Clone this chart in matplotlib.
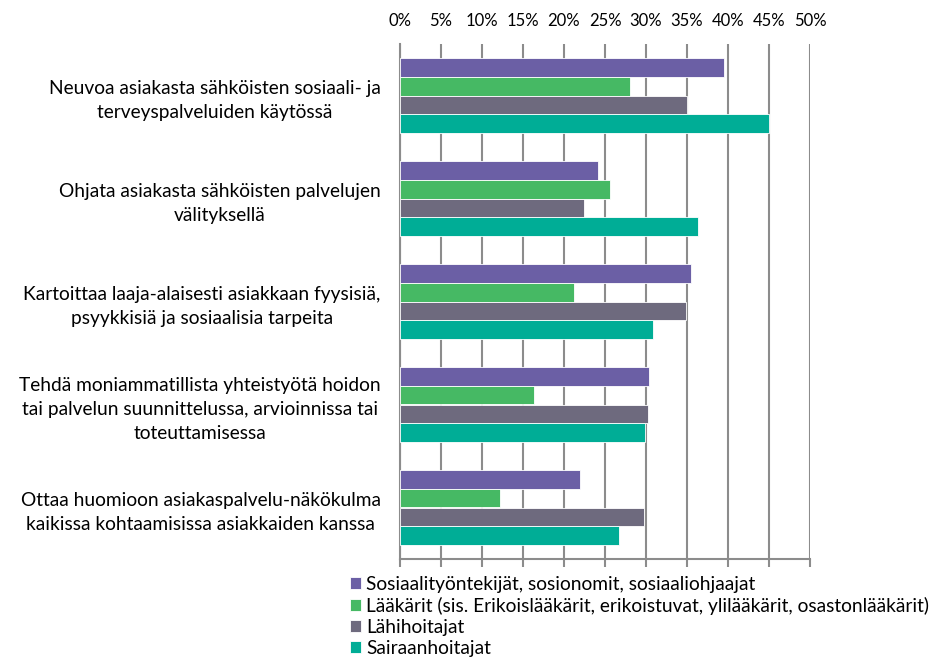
import numpy as np
import matplotlib
matplotlib.use("Agg")
import matplotlib.pyplot as plt
from matplotlib.ticker import MultipleLocator, PercentFormatter

plt.rcParams["font.family"] = ["Lato", "DejaVu Sans"]

# Data (percent)
categories = [
    "Neuvoa asiakasta sähköisten sosiaali- ja\nterveyspalveluiden käytössä",
    "Ohjata asiakasta sähköisten palvelujen\nvälityksellä",
    "Kartoittaa laaja-alaisesti asiakkaan fyysisiä,\npsyykkisiä ja sosiaalisia tarpeita",
    "Tehdä moniammatillista yhteistyötä hoidon\ntai palvelun suunnittelussa, arvioinnissa tai\ntoteuttamisessa",
    "Ottaa huomioon asiakaspalvelu-näkökulma\nkaikissa kohtaamisissa asiakkaiden kanssa",
]
series_names = [
    "Sosiaalityöntekijät, sosionomit, sosiaaliohjaajat",
    "Lääkärit (sis. Erikoislääkärit, erikoistuvat, ylilääkärit, osastonlääkärit)",
    "Lähihoitajat",
    "Sairaanhoitajat",
]
sosiaalityo = [39.5, 24.2, 35.5, 30.4, 22.0]
laakarit = [28.0, 25.6, 21.2, 16.3, 12.2]
lahihoitajat = [35.0, 22.4, 34.9, 30.3, 29.7]
sairaanhoitajat = [45.0, 36.4, 30.9, 29.9, 26.7]
colors = ["#6B5FA5", "#46B964", "#6E6A7E", "#00AD96"]

values = [sosiaalityo, laakarit, lahihoitajat, sairaanhoitajat]

fig = plt.figure(figsize=(9.51, 6.57), dpi=100)
W, H = 951, 657
ax = fig.add_axes([400 / W, (H - 559) / H, 410 / W, (559 - 44) / H])

y = np.arange(len(categories))
h = 0.182
for i, (vals, col, name) in enumerate(zip(values, colors, series_names)):
    ax.barh(y + (i - 1.5) * h, vals, height=h, color=col, label=name,
            edgecolor="white", linewidth=0.6, zorder=3)

ax.set_xlim(0, 50)
ax.set_ylim(4.5, -0.5)
ax.xaxis.set_major_locator(MultipleLocator(5))
ax.xaxis.set_major_formatter(PercentFormatter(decimals=0))
ax.grid(axis="x", color="#8C8C8C", linewidth=1.5, zorder=0)
ax.set_yticks(y)
ax.set_yticklabels(categories, fontsize=13.8, multialignment="center", linespacing=1.5)

ax.tick_params(axis="x", top=False, bottom=True, labeltop=True, labelbottom=False,
               length=6, width=1.5, color="#8C8C8C", labelsize=12, pad=5)
ax.tick_params(axis="y", length=0, pad=14)

for s in ["top", "right"]:
    ax.spines[s].set_visible(False)
for s in ["left", "bottom"]:
    ax.spines[s].set_color("#8C8C8C")
    ax.spines[s].set_linewidth(1.5)

fig.legend(loc="upper left", bbox_to_anchor=(350 / W, (H - 576) / H), frameon=False,
           fontsize=13.8, handlelength=0.55, handleheight=0.55, handletextpad=0.3,
           labelspacing=0.2, borderaxespad=0, borderpad=0)

fig.savefig("out.png", dpi=100)
